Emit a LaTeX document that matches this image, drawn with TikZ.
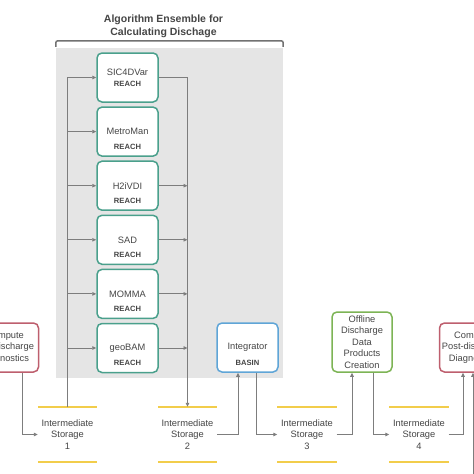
\documentclass[tikz,border=0pt]{standalone}
\usepackage{fontspec}
\setmainfont{Liberation Sans}
\usetikzlibrary{arrows.meta, positioning, calc}

\definecolor{textgray}{RGB}{70,70,70}
\definecolor{linegray}{RGB}{125,125,125}
\definecolor{bggray}{RGB}{229,229,229}
\definecolor{tealline}{RGB}{74,160,140}
\definecolor{blueline}{RGB}{95,165,215}
\definecolor{greenline}{RGB}{125,180,85}
\definecolor{redline}{RGB}{190,95,110}
\definecolor{storeyellow}{RGB}{242,205,75}
\newcommand{\tagfont}{\bfseries\fontsize{7.6}{9}\selectfont}

\begin{document}
\begin{tikzpicture}[x=1pt, y=-1pt,
  every node/.style={font=\fontsize{9.3}{11.4}\selectfont, text=textgray},
  box/.style={line width=1.5pt, rounded corners=5pt, fill=white, minimum width=61pt, minimum height=49pt, align=center, inner sep=1pt},
  algbox/.style={box, draw=tealline},
  intbox/.style={box, draw=blueline},
  offbox/.style={box, draw=greenline, minimum width=60pt, minimum height=60pt},
  diagbox/.style={box, draw=redline, minimum width=67pt},
  tag/.style={font=\tagfont},
  store/.style={minimum width=59pt, minimum height=55pt, align=center, inner sep=0pt},
  storeline/.style={draw=storeyellow, line width=1.5pt},
  arr/.style={draw=linegray, line width=0.9pt, -{Triangle[length=4pt,width=3.5pt]}},
  bracket/.style={draw=linegray!90!black, line width=1.5pt, rounded corners=2pt},
  titletext/.style={font=\bfseries\fontsize{10.5}{13}\selectfont, align=center}]
  \clip (0,0) rectangle (474,474);
  \fill[white] (0,0) rectangle (474,474);

  % Ensemble background and title
  \node[fill=bggray, minimum width=227pt, minimum height=330pt, inner sep=0pt] (ens) at (169.5,213) {};
  \node[titletext] (ttl) at (163.5,26.5) {Algorithm Ensemble for\\Calculating Dischage};
  \draw[bracket] ([yshift=1pt]ens.north west) -- ++(0,-6) -| ([yshift=1pt]ens.north east);

  % Algorithm boxes
  \node[algbox] (sic) at (127.5,77.5) {SIC4DVar\\{\tagfont REACH}};
  \foreach \nm/\lbl [count=\k] in {metro/MetroMan, h2/H2iVDI, sad/SAD, momma/MOMMA, geo/geoBAM}
    \node[algbox, label={[tag, anchor=center, yshift=-15pt]center:REACH}] (\nm) at (127.5,{77.5+54.1*\k}) {\lbl};

  % Intermediate storage
  \foreach \nm/\xx/\n in {s1/67.5/1, s2/187.5/2, s3/307/3, s4/419/4} {
    \node[store] (\nm) at (\xx,434.5) {Intermediate\\Storage\\\n};
    \draw[storeline] (\nm.north west) -- (\nm.north east);
    \draw[storeline] (\nm.south west) -- (\nm.south east);
  }

  % Processing steps
  \node[diagbox] (pre) at (5,347.5) {Compute\\Pre-discharge\\Diagnostics};
  \node[intbox, label={[tag, anchor=center, yshift=-15.5pt]center:BASIN}] (integ) at (247.5,347.5) {Integrator};
  \node[offbox] (off) at (362,342) {Offline\\Discharge\\Data\\Products\\Creation};
  \node[diagbox] (post) at (473,347.5) {Compute\\Post-discharge\\Diagnostics};
  \coordinate (offpage) at (473,474);

  % Into and out of the ensemble
  \draw[arr] (s1.north) |- (sic.west);
  \foreach \nm in {metro, h2, sad, momma, geo}
    \draw[arr] (s1.north) |- (\nm.west);
  \draw[arr] (sic.east) -| (s2.north);
  \foreach \nm in {h2, sad, momma, geo}
    \draw[arr] (\nm.east) -- (\nm.east -| s2.north);

  % Chain along the bottom
  \draw[arr] ([xshift=17pt]pre.south) |- (s1.west);
  \draw[arr] (s2.east) -| ([xshift=-9.5pt]integ.south);
  \draw[arr] ([xshift=8.5pt]integ.south) |- (s3.west);
  \draw[arr] (s3.east) -| ([xshift=-10pt]off.south);
  \draw[arr] ([xshift=11pt]off.south) |- (s4.west);
  \draw[arr] (s4.east) -| ([xshift=-10pt]post.south);
  \draw[arr] (offpage) -- (post.south);
\end{tikzpicture}
\end{document}
